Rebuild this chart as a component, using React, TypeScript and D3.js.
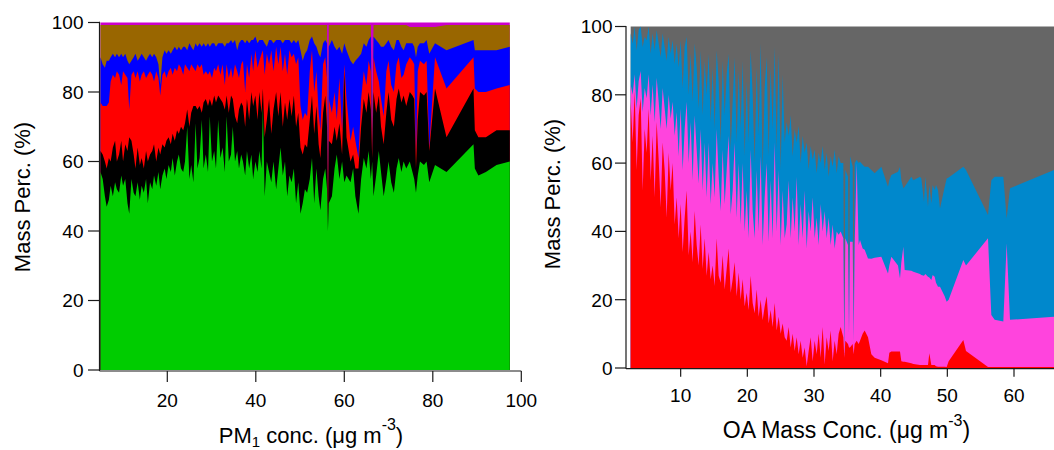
import React from 'react';
import * as d3 from 'd3';

// ---------- Left panel: PM1 composition vs PM1 concentration ----------
const pmConc = [4.9,5.4,5.9,6.3,6.8,7.2,7.7,8.2,8.6,9.1,9.6,10.0,10.5,11.0,11.4,11.9,12.4,12.8,13.3,13.8,14.2,14.7,15.2,15.6,16.1,16.6,17.0,17.5,18.0,18.4,18.9,19.4,19.8,20.3,20.8,21.2,21.7,22.2,22.6,23.1,23.6,24.0,24.5,25.0,25.4,25.9,26.4,26.8,27.3,27.8,28.2,28.7,29.2,29.6,30.1,30.6,31.0,31.5,32.0,32.5,33.0,33.4,33.9,34.4,34.8,35.3,35.8,36.2,36.7,37.1,37.6,38.0,38.5,39.0,39.4,39.9,40.4,40.8,41.3,41.6,42.0,42.5,43.0,43.5,44.0,44.6,45.1,45.6,46.1,46.6,47.1,47.6,48.1,48.6,49.1,49.6,50.1,50.6,51.1,51.6,52.2,52.7,53.2,53.7,54.2,54.6,55.2,55.7,56.1,56.3,56.5,57.2,57.8,58.3,58.9,59.5,60.0,60.5,61.4,62.0,62.5,63.2,63.8,64.4,65.0,65.5,66.0,66.3,66.6,67.2,67.8,68.3,68.9,69.5,70.0,70.6,71.2,71.8,72.3,72.9,73.4,74.0,74.8,75.4,75.8,76.2,76.6,77.1,78.0,78.6,79.2,80.5,83.1,89.2,89.5,90.3,92.0,94.4,97.4];
const org = [
  57,55,50,47,49,53,50,54,52,51,
  56,53,55,48,45,55,51,50,54,49,
  53,51,55,48,54,52,56,53,57,52,
  56,58,55,59,57,61,56,60,62,58,
  57,60,70,55,59,54,71,58,61,72,
  58,62,57,73,60,63,58,72,61,64,
  57,73,60,62,70,60,63,58,62,60,
  56,63,58,62,55,60,57,63,58,76,
  50,60,57,54,60,52,58,64,56,60,
  50,56,54,58,48,54,45,48,52,51,
  55,61,48,58,50,46,55,58,52,40,
  48,50,58,62,55,60,54,56,54,58,
  50,45,55,61,58,63,55,60,50,56,
  63,57,50,55,60,54,51,58,61,57,
  60,58,60,57,55,51,56,60,59,60,
  54,59,57,65,58,56,57,59,60];
const bc = [
  6,7,10,11,12,7,14,12,8,11,
  10,7,10,15,22,11,11,8,10,10,
  8,7,8,12,8,11,9,7,7,10,
  9,6,11,8,8,7,10,9,6,12,
  12,11,5,15,15,22,5,17,15,2,
  19,16,19,5,16,16,19,7,17,13,
  18,6,14,17,8,13,8,17,15,16,
  14,15,14,18,21,19,15,17,16,5,
  17,12,21,14,15,28,15,16,14,17,
  22,22,19,21,22,20,19,14,13,13,
  17,18,20,18,15,15,19,21,18,1,
  18,15,12,4,16,2,32,11,6,4,
  8,13,15,17,16,17,20,1,30,18,
  16,13,15,19,20,18,19,20,20,20,
  19,18,20,22,23,7,16,20,20,20,
  9,22,10,16,11,11,10,10,9];
const so4 = [
  14,14,16,18,16,23,21,18,26,23,
  16,26,20,21,8,19,24,26,22,24,
  24,28,21,25,24,22,18,26,20,17,
  20,22,18,19,22,17,21,17,20,17,
  16,17,12,16,14,11,10,13,11,14,
  8,8,9,8,8,8,9,9,7,11,
  7,9,10,8,6,15,15,9,11,13,
  10,10,12,11,10,13,15,9,17,11,
  18,19,10,24,11,13,15,13,16,14,
  13,14,17,12,18,16,12,10,9,9,
  14,13,12,10,9,8,14,11,14,1,
  12,9,10,6,13,7,2,11,6,8,
  8,3,8,8,8,9,11,1,10,12,
  4,8,8,12,9,10,10,10,9,7,
  6,12,10,10,10,4,14,9,9,9,
  1,9,14,9,12,13,13,12,13];
const no3 = [
  13,12,11,13,12,7,6,6,5,5,
  9,4,6,5,13,4,4,7,3,7,
  6,4,5,5,5,5,8,4,4,3,
  5,6,7,6,4,7,6,6,5,5,
  8,5,5,8,5,5,8,5,7,5,
  9,7,9,7,10,7,7,6,9,6,
  11,6,10,8,10,7,6,10,7,6,
  14,7,10,4,9,4,7,6,4,3,
  9,2,7,3,8,2,7,2,8,4,
  10,3,4,4,6,5,16,17,17,19,
  9,4,14,7,17,21,6,5,10,1,
  15,21,13,20,9,22,6,14,23,18,
  23,29,13,8,11,6,10,1,6,9,
  11,15,20,8,6,11,12,7,5,9,
  7,6,4,5,5,28,7,5,6,6,
  27,4,11,5,11,12,12,11,11];
const nh4 = [
  9.3,11.3,12.3,10.3,10.3,9.3,8.3,9.3,8.3,9.3,
  8.3,9.3,8.3,10.3,11.3,10.3,9.3,8.3,10.3,9.3,
  8.3,9.3,10.3,9.3,8.3,9.3,8.3,9.3,11.3,17.3,
  9.3,7.3,8.3,7.3,8.3,7.3,6.3,7.3,6.3,7.3,
  6.3,6.3,7.3,5.3,6.3,7.3,5.3,6.3,5.3,6.3,
  5.3,6.3,5.3,6.3,5.3,5.3,6.3,5.3,5.3,5.3,
  6.3,5.3,5.3,4.3,5.3,4.3,7.3,5.3,4.3,4.3,
  5.3,4.3,5.3,4.3,4.3,3.3,5.3,4.3,4.3,4.3,
  5.3,6.3,4.3,4.3,5.3,4.3,4.3,4.3,5.3,4.3,
  4.3,4.3,5.3,4.3,5.3,4.3,7.3,10.3,8.3,7.3,
  4.3,3.3,5.3,6.3,8.3,9.3,5.3,4.3,5.3,1,
  6.3,4.3,6.3,7.3,6.3,8.3,5.3,7.3,10.3,11.3,
  10.3,9.3,8.3,5.3,6.3,4.3,3.3,1,3.3,4.3,
  5.3,6.3,6.3,5.3,4.3,6.3,7.3,4.3,4.3,6.3,
  7.3,5.3,4.7,4.7,5.7,8.7,5.7,4.7,4.7,3.7,
  7.7,4.7,7.3,4.3,7.3,7.3,7.3,7.3,6.3];
const chl = [
  0.7,0.7,0.7,0.7,0.7,0.7,0.7,0.7,0.7,0.7,
  0.7,0.7,0.7,0.7,0.7,0.7,0.7,0.7,0.7,0.7,
  0.7,0.7,0.7,0.7,0.7,0.7,0.7,0.7,0.7,0.7,
  0.7,0.7,0.7,0.7,0.7,0.7,0.7,0.7,0.7,0.7,
  0.7,0.7,0.7,0.7,0.7,0.7,0.7,0.7,0.7,0.7,
  0.7,0.7,0.7,0.7,0.7,0.7,0.7,0.7,0.7,0.7,
  0.7,0.7,0.7,0.7,0.7,0.7,0.7,0.7,0.7,0.7,
  0.7,0.7,0.7,0.7,0.7,0.7,0.7,0.7,0.7,0.7,
  0.7,0.7,0.7,0.7,0.7,0.7,0.7,0.7,0.7,0.7,
  0.7,0.7,0.7,0.7,0.7,0.7,0.7,0.7,0.7,0.7,
  0.7,0.7,0.7,0.7,0.7,0.7,0.7,0.7,0.7,56,
  0.7,0.7,0.7,0.7,0.7,0.7,0.7,0.7,0.7,0.7,
  0.7,0.7,0.7,0.7,0.7,0.7,0.7,36,0.7,0.7,
  0.7,0.7,0.7,0.7,0.7,0.7,0.7,0.7,0.7,0.7,
  0.7,0.7,1.3,1.3,1.3,1.3,1.3,1.3,1.3,1.3,
  1.3,1.3,0.7,0.7,0.7,0.7,0.7,0.7,0.7];
const pmSpecies = ['org', 'bc', 'so4', 'no3', 'nh4', 'chl'];
const pmColors = ['#00CC00', '#000000', '#FF0000', '#0000FF', '#996600', '#CC00CC'];
const pmTicks = [20, 40, 60, 80, 100];

// ---------- Right panel: OA factor fractions vs OA concentration ----------
const oaConc = [
  2.5,2.8,3.1,3.4,3.7,4.0,4.3,4.6,4.9,5.2,5.5,5.8,6.1,6.4,6.7,7.0,7.3,7.6,7.9,8.2,8.5,8.8,9.1,9.4,
  9.7,10.0,10.3,10.6,10.9,11.2,11.5,11.8,12.1,12.4,12.7,13.0,13.3,13.6,13.9,
  14.2,14.5,14.8,15.1,15.4,15.7,16.0,16.3,16.6,16.9,17.2,17.5,17.8,18.1,18.4,18.7,
  19.0,19.3,19.6,19.9,20.2,20.5,20.8,21.1,21.4,21.7,22.0,22.3,22.6,22.9,23.2,23.5,23.8,24.1,24.4,24.7,25.0,25.3,25.6,
  25.9,26.2,26.5,26.8,27.1,27.4,27.7,28.0,28.3,28.6,28.9,29.2,29.5,29.8,30.1,30.4,30.7,31.0,31.3,31.6,31.9,32.2,32.5,32.8,33.1,33.4,33.7,34.0,34.4,34.55,34.7,35.1,35.25,35.4,35.8,35.95,36.1,36.4,36.7,
  36.9,37.3,37.6,38.1,38.6,39.1,40.1,41.1,41.3,41.6,42.6,42.9,43.1,43.4,43.6,44.6,44.9,45.9,46.1,46.5,46.7,47.1,47.3,47.6,47.8,48.1,48.3,48.6,48.9,49.6,49.9,50.2,52.4,52.8,56.1,56.6,57.1,58.4,58.9,59.4,66.0];
const oaRed = [
  78,66,81,58,74,79,52,70,63,76,55,68,50,72,61,47,66,58,44,63,52,60,42,50,
  38,48,34,44,52,33,40,31,46,36,30,42,29,38,27,
  34,26,30,24,38,27,25,33,23,29,35,22,26,31,21,28,
  20,26,18,22,17,27,19,16,23,15,20,14,18,21,13,17,12,19,11,15,10,13,9,
  8,12,6,10,5,9,4,8,3,6,0.5,5,9,2,8,4,10,3,12,1,9,5,11,2,8,4,10,12,9,3,8,7,6,6,7,4,7,8,7,
  8,10,11,9,4,3,2.3,1.4,4.5,4.8,4.8,4.8,2,1.8,1.8,1.4,1.2,0.9,0.9,0.9,0.9,0.9,4.3,0.9,0.9,0.9,0.5,0.4,0.4,0.4,0.3,2,8.2,5,0.3,0.3,0.3,0.3,0.3,0.3,0.3];
const oaPink = [
  5,14,5,18,10,8,23,12,16,10,19,15,22,13,17,23,16,18,26,17,21,18,26,25,
  24,28,24,26,26,27,32,24,28,28,24,28,23,28,23,
  32,22,30,26,32,29,21,31,25,29,33,23,26,35,23,32,
  22,34,22,30,21,37,27,22,35,25,42,22,32,39,24,38,26,47,29,43,26,39,29,
  34,43,32,40,35,47,32,40,35,46,34.5,41,31,48,30,40,26,45,28,45,29,39,25,40,27,36,29,28,29,1,30,29,4,31,30,4,29,52,29,
  29.5,25,23.6,23.1,28,29.3,30.3,26.3,25.5,27.8,25.2,21.4,29,33.7,26.9,27.1,27,26.6,26.3,26.1,26.6,25.8,22.2,24.9,26.3,25.8,24.5,23.4,23.4,20.6,19.1,18,23.4,25,37.7,15.2,13.8,13.3,36.2,13.8,14.7];
const oaBlue = [
  15,15,14,17,15,13,19,15,17,14,18,15,21,14,17,21,16,18,20,17,19,18,21,20,
  26,20,24,24,19,20,20,23,21,24,22,23,22,24,30,
  26,24,28,20,23,28,20,26,26,28,24,19,26,25,22,27,
  28,30,22,32,28,29,34,22,30,28,33,22,32,31,25,33,32,28,24,34,22,34,28,
  30,13,36,12,30,10,35,12,30,11,31,12,25,11,26,13,27,12,25,12,25,12,26,17,29,17,23,20,22,1,20,20,4,25,22,2,24,1,24,
  22.9,24.5,24.3,26.8,26,24.7,26.3,25.4,25,23.9,27.5,32.7,24,17.1,24.4,27.5,26.8,28.5,28.3,21.7,28.5,20.5,27.1,22.4,26.4,25.4,28.6,28.3,22.9,32,36.1,35.8,27.3,28,6.8,39.5,41.9,42.4,7.3,38.5,43];
const oaGray = [
  2,5,0,7,1,0,6,3,4,0,8,2,7,1,5,9,2,6,10,3,8,4,11,5,
  12,4,18,6,3,20,8,22,5,12,24,7,26,10,20,
  8,28,12,30,7,16,34,10,26,14,8,36,22,9,34,13,
  30,10,38,16,34,7,20,40,12,32,5,42,18,9,38,12,30,6,36,8,42,14,34,
  28,32,26,38,30,34,29,40,32,37,34,42,35,39,36,43,37,40,35,42,37,44,38,41,36,43,38,40,40,95,42,44,86,38,41,90,40,39,40,
  39.6,40.5,41.1,41.1,42,43,41.1,46.9,45,43.5,42.5,41.1,45,47.4,46.9,44,45,44,44.5,51.3,44,52.8,46.4,51.8,46.4,47.9,46.4,47.9,53.3,47,44.5,44.2,41.1,42,55.2,45,44,44,56.2,47.4,42];
const oaFactors = ['red', 'pink', 'blue', 'gray'];
const oaColors = ['#FF0000', '#FF44DD', '#0088CC', '#666666'];
const oaTicks = [10, 20, 30, 40, 50, 60];

const percTicks = [0, 20, 40, 60, 80, 100];

const FONT = '"Liberation Sans", Arial, sans-serif';

type PanelProps = {
  rows: any[];
  keys: string[];
  colors: string[];
  x: d3.ScaleLinear<number, number>;
  y: d3.ScaleLinear<number, number>;
};

function StackedLayers({ rows, keys, colors, x, y }: PanelProps) {
  const series = d3.stack<any>().keys(keys)(rows);
  const shapes = series.map((s, i) => {
    const area = d3
      .area<any>()
      .x((d) => x(d.data.x))
      .y0(() => y(0))
      .y1((d) => y(d[1]))
      .curve(d3.curveLinear);
    return { path: area(s as any) || '', color: colors[i], key: keys[i] };
  });
  // top layer first (full height); lower layers painted over it, so no seams
  return (
    <g>
      {shapes
        .slice()
        .reverse()
        .map((s) => (
          <path key={s.key} d={s.path} fill={s.color} stroke="none" />
        ))}
    </g>
  );
}

export default function App() {
  const xL = d3.scaleLinear().domain([0, 100]).range([78.8, 521.3]);
  const yL = d3.scaleLinear().domain([0, 100]).range([370, 22.5]);
  const xR = d3.scaleLinear().domain([0, 66]).range([614, 1054]);
  const yR = d3.scaleLinear().domain([0, 100]).range([368, 26.5]);

  const pmRows = pmConc.map((v, i) => ({
    x: v,
    org: org[i],
    bc: bc[i],
    so4: so4[i],
    no3: no3[i],
    nh4: nh4[i],
    chl: chl[i],
  }));
  const oaRows = oaConc.map((v, i) => ({
    x: v,
    red: oaRed[i],
    pink: oaPink[i],
    blue: oaBlue[i],
    gray: oaGray[i],
  }));

  const axisColor = '#1a1a1a';
  const tickFont = 19;
  const labelFont = 22;

  const lAxisX = 99.5;
  const lAxisY = 371;
  const rAxisX = 626;
  const rAxisY = 368.7;

  return (
    <svg
      width={1054}
      height={450}
      style={{ position: 'absolute', left: 0, top: 0, background: '#fff' }}
      fontFamily={FONT}
    >
      <rect x={0} y={0} width={1054} height={450} fill="#fff" />

      {/* ---------------- Left panel ---------------- */}
      <StackedLayers rows={pmRows} keys={pmSpecies} colors={pmColors} x={xL} y={yL} />

      <line x1={lAxisX} x2={lAxisX} y1={21.7} y2={lAxisY} stroke={axisColor} strokeWidth={1.2} />
      <line x1={lAxisX} x2={xL(100)} y1={lAxisY} y2={lAxisY} stroke={axisColor} strokeWidth={1.2} />
      {percTicks.map((t) => (
        <g key={'ly' + t}>
          <line x1={88} x2={lAxisX} y1={yL(t)} y2={yL(t)} stroke={axisColor} strokeWidth={1.2} />
          <text x={83.5} y={yL(t) + 6.8} textAnchor="end" fontSize={tickFont} fill="#000">
            {t}
          </text>
        </g>
      ))}
      {pmTicks.map((t) => (
        <g key={'lx' + t}>
          <line x1={xL(t)} x2={xL(t)} y1={lAxisY} y2={lAxisY + 11} stroke={axisColor} strokeWidth={1.2} />
          <text x={xL(t)} y={407} textAnchor="middle" fontSize={tickFont} fill="#000">
            {t}
          </text>
        </g>
      ))}
      <text x={311} y={443} textAnchor="middle" fontSize={labelFont} fill="#000">
        PM
        <tspan fontSize={15} dy={4}>1</tspan>
        <tspan dy={-4}> conc. (μg m</tspan>
        <tspan fontSize={16} dy={-13}>-3</tspan>
        <tspan dy={13}>)</tspan>
      </text>
      <text transform="translate(30,197) rotate(-90)" textAnchor="middle" fontSize={labelFont} fill="#000">
        Mass Perc. (%)
      </text>

      {/* ---------------- Right panel ---------------- */}
      <StackedLayers rows={oaRows} keys={oaFactors} colors={oaColors} x={xR} y={yR} />

      <line x1={rAxisX} x2={rAxisX} y1={26} y2={rAxisY} stroke={axisColor} strokeWidth={1.2} />
      <line x1={rAxisX} x2={1054} y1={rAxisY} y2={rAxisY} stroke={axisColor} strokeWidth={1.2} />
      {percTicks.map((t) => (
        <g key={'ry' + t}>
          <line x1={615} x2={rAxisX} y1={yR(t)} y2={yR(t)} stroke={axisColor} strokeWidth={1.2} />
          <text x={612.5} y={yR(t) + 6.8} textAnchor="end" fontSize={tickFont} fill="#000">
            {t}
          </text>
        </g>
      ))}
      {oaTicks.map((t) => (
        <g key={'rx' + t}>
          <line x1={xR(t)} x2={xR(t)} y1={rAxisY} y2={rAxisY + 8} stroke={axisColor} strokeWidth={1.2} />
          <text x={xR(t)} y={401.5} textAnchor="middle" fontSize={tickFont} fill="#000">
            {t}
          </text>
        </g>
      ))}
      <text x={846.5} y={438} textAnchor="middle" fontSize={23} fill="#000">
        OA Mass Conc. (μg m
        <tspan fontSize={16} dy={-12}>-3</tspan>
        <tspan dy={12}>)</tspan>
      </text>
      <text transform="translate(560,194) rotate(-90)" textAnchor="middle" fontSize={labelFont} fill="#000">
        Mass Perc. (%)
      </text>
    </svg>
  );
}
